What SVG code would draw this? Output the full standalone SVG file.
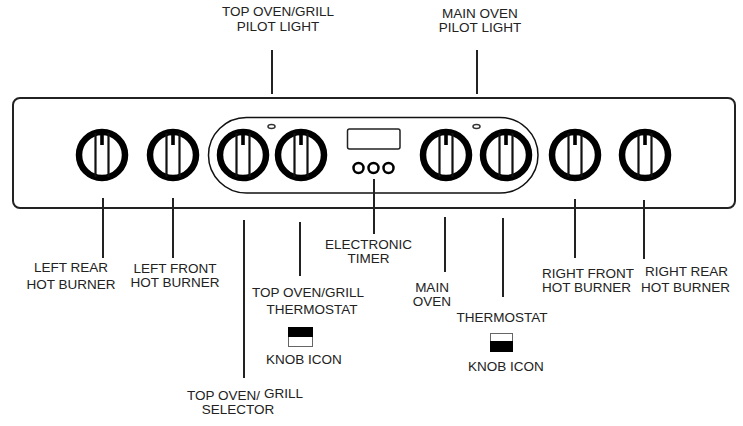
<svg xmlns="http://www.w3.org/2000/svg" width="743" height="426" viewBox="0 0 743 426">
<style>
text{font-family:"Liberation Sans",Arial,sans-serif;font-size:13.500px;fill:#222;text-anchor:middle}
.k{fill:none;stroke:#000;stroke-width:6.500}
.g{stroke:#111;stroke-width:2.200;fill:none}
.c line{stroke:#222;stroke-width:2}
.i{fill:#fff;stroke:#666;stroke-width:1}
</style>
<defs>
<g id="knob">
<circle class="k" r="23"/>
<path class="g" d="M-6.500 -22V22M6.500 -22V22"/>
<rect x="-1.800" y="-20" width="3.600" height="10" fill="#000"/>
</g>
</defs>
<rect width="743" height="426" fill="#fff"/>
<g id="panel">
<rect x="13" y="98" width="722" height="110" rx="7" fill="none" stroke="#222" stroke-width="2"/>
<rect x="208.500" y="117.500" width="329.500" height="75.500" rx="38" fill="none" stroke="#111" stroke-width="1.500"/>
<ellipse cx="271.500" cy="126.500" rx="3.500" ry="2" fill="none" stroke="#333" stroke-width="1.500"/>
<ellipse cx="476.500" cy="126.500" rx="3.500" ry="2" fill="none" stroke="#333" stroke-width="1.500"/>
</g>
<g id="knob-left-rear"><use href="#knob" x="102" y="155"/></g>
<g id="knob-left-front"><use href="#knob" x="173" y="155"/></g>
<g id="knob-top-selector"><use href="#knob" x="243" y="155"/></g>
<g id="knob-top-thermostat"><use href="#knob" x="301" y="155"/></g>
<g id="knob-main-oven"><use href="#knob" x="446" y="155"/></g>
<g id="knob-main-thermostat"><use href="#knob" x="506" y="155"/></g>
<g id="knob-right-front"><use href="#knob" x="575" y="155"/></g>
<g id="knob-right-rear"><use href="#knob" x="645" y="155"/></g>
<g id="timer">
<rect x="347.500" y="129" width="52.500" height="20" rx="2" fill="none" stroke="#222" stroke-width="1.500"/>
<circle cx="358.500" cy="168" r="5" fill="none" stroke="#000" stroke-width="2.500"/>
<circle cx="373.500" cy="168" r="5" fill="none" stroke="#000" stroke-width="2.500"/>
<circle cx="388.500" cy="168" r="5" fill="none" stroke="#000" stroke-width="2.500"/>
</g>
<g id="connectors" class="c">
<line x1="272" y1="50" x2="272" y2="94"/>
<line x1="477" y1="50" x2="477" y2="94"/>
<line x1="103" y1="198" x2="103" y2="258"/>
<line x1="173" y1="198" x2="173" y2="258"/>
<line x1="244" y1="220" x2="244" y2="378"/>
<line x1="300" y1="222" x2="300" y2="276"/>
<line x1="374" y1="179" x2="374" y2="234"/>
<line x1="445" y1="217" x2="445" y2="272"/>
<line x1="503" y1="218" x2="503" y2="297"/>
<line x1="575" y1="199" x2="575" y2="258"/>
<line x1="644" y1="200" x2="644" y2="259"/>
</g>
<g id="label-top-pilot"><text x="278" y="16">TOP OVEN/GRILL</text><text x="278" y="31">PILOT LIGHT</text></g>
<g id="label-main-pilot"><text x="480" y="18">MAIN OVEN</text><text x="480" y="32">PILOT LIGHT</text></g>
<g id="label-left-rear"><text x="71" y="272">LEFT REAR</text><text x="71" y="289">HOT BURNER</text></g>
<g id="label-left-front"><text x="175" y="273">LEFT FRONT</text><text x="175" y="287">HOT BURNER</text></g>
<g id="label-selector"><text x="245" y="400">TOP OVEN/ <tspan dy="-2">GRILL</tspan></text><text x="238" y="414">SELECTOR</text></g>
<g id="label-top-thermostat"><text x="308" y="297">TOP OVEN/GRILL</text><text x="312" y="314">THERMOSTAT</text></g>
<g id="icon-top"><rect class="i" x="288.500" y="327.500" width="24" height="19"/><rect x="288" y="327" width="25" height="10" fill="#000"/><text x="304" y="364">KNOB ICON</text></g>
<g id="label-timer"><text x="368.500" y="249">ELECTRONIC</text><text x="368.500" y="263">TIMER</text></g>
<g id="label-main-oven"><text x="432" y="292">MAIN</text><text x="432" y="306">OVEN</text></g>
<g id="label-main-thermostat"><text x="502" y="322">THERMOSTAT</text></g>
<g id="icon-main"><rect class="i" x="490.500" y="333.500" width="22" height="18"/><rect x="490" y="341" width="23" height="11" fill="#000"/><text x="506" y="370.500">KNOB ICON</text></g>
<g id="label-right-front"><text x="588" y="277.500">RIGHT FRONT</text><text x="586.500" y="292">HOT BURNER</text></g>
<g id="label-right-rear"><text x="686.500" y="276">RIGHT REAR</text><text x="685.500" y="291.500">HOT BURNER</text></g>
</svg>
